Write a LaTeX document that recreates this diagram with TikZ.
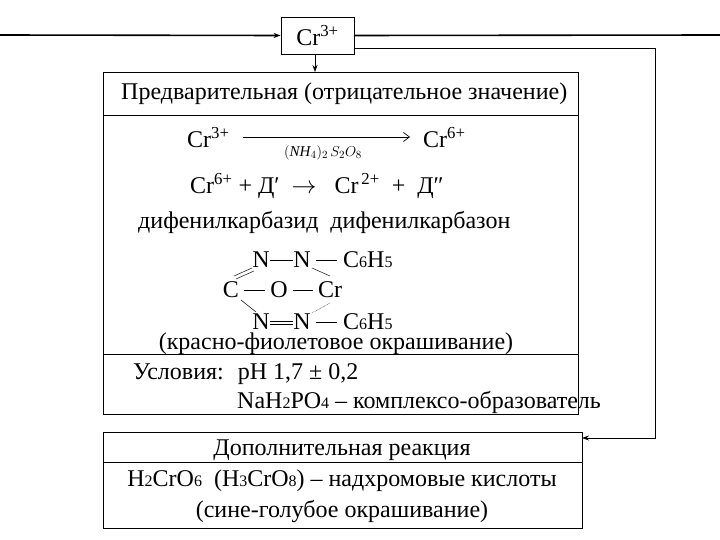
\documentclass[tikz,border=0pt]{standalone}
\usepackage{fontspec}
\setmainfont{Liberation Serif}
\usetikzlibrary{arrows.meta}
\newcommand{\lo}[1]{{\fontsize{16}{17}\selectfont #1}}
\newcommand{\up}[1]{\textsuperscript{#1}}
\begin{document}
\begin{tikzpicture}[x=1pt,y=-1pt,
  txt/.style={inner sep=0pt,font=\fontsize{24}{26}\selectfont},
  bx/.style={draw,line width=0.8pt},
  arr/.style={-{Stealth[length=7pt,width=5pt]}},
  sm/.style={font=\fontsize{15}{16}\selectfont}]
\useasboundingbox (0,0) rectangle (720,540);
% top box
\node[bx,minimum width=73,minimum height=37,inner sep=0pt,txt] (cr) at (317.5,35.5) {Cr\up{3+}};
\coordinate (L) at (0,35);
\coordinate (R) at (720,35);
\draw[line width=1.6pt,arr] (L) -- (cr.west);
\draw[line width=1.6pt] (cr.east) -- (R);
% main box
\draw[bx] (103,72) rectangle (578,414);
\draw[bx] (103,115) -- (578,115);
\draw[bx] (103,354) -- (578,354);
\coordinate (mtop) at (315,72);
\draw[line width=0.8pt,arr] (cr.south -| mtop) -- (mtop);
% lower box
\draw[bx] (103,432) rectangle (582,528);
\draw[bx] (103,462) -- (582,462);
\coordinate (c1) at (354,48);
\coordinate (c2) at (655,48);
\coordinate (c3) at (655,438);
\coordinate (c4) at (582,438);
\draw[line width=0.8pt,arr] (c1) -- (c2) -- (c3) -- (c4);
% texts
\node[txt,anchor=west] (t1) at (121,94) {Предварительная (отрицательное значение)};
\node[txt,anchor=west] (a1) at (187,138) {Cr\up{3+}};
\node[txt,anchor=west] (a2) at (423,138) {Cr\up{6+}};
\coordinate (ar1) at (243,137);
\coordinate (ar2) at (410,137);
\draw[line width=0.7pt,-{Straight Barb[length=6pt,width=9pt]}] (ar1) -- (ar2);
\node[sm,inner sep=0pt] (re) at (323,153) {$(\mathit{NH}_4)_2\,S_2O_8$};
\node[txt,anchor=west] (l2) at (190,186) {Cr\up{6+} + Д′ \ $\rightarrow$ \ \ Cr\up{\,2+} \ + \ Д″};
\node[txt,anchor=west] (l3) at (138,222) {дифенилкарбазид \ дифенилкарбазон};
% structure
\node[txt] (n1) at (261,260) {N};
\node[txt] (n2) at (302,260) {N};
\node[txt,anchor=west] (p1) at (343,260) {C\lo{6}H\lo{5}};
\node[txt] (cc) at (231,290) {C};
\node[txt] (oo) at (279,290) {O};
\node[txt] (crr) at (330,290) {Cr};
\node[txt] (n3) at (261,322) {N};
\node[txt] (n4) at (302,322) {N};
\node[txt,anchor=west] (p2) at (343,322) {C\lo{6}H\lo{5}};
\draw[line width=0.6pt] (n1.east) -- (n2.west);
\draw[line width=0.6pt] ([xshift=5]n2.east) -- ([xshift=-6]p1.west);
\draw[line width=0.6pt] ([xshift=5]n4.east) -- ([xshift=-6]p2.west);
\draw[line width=0.6pt] ([xshift=5]cc.east) -- ([xshift=-5]oo.west);
\draw[line width=0.6pt] ([xshift=5]oo.east) -- ([xshift=-5]crr.west);
\draw[line width=0.5pt] (234,276) -- (252,268);
\draw[line width=0.5pt] (236,279) -- (254,271);
\draw[line width=0.5pt] (312,268) -- (330,276);
\draw[line width=0.5pt] (241,300) -- (256,312);
\draw[line width=0.5pt,densely dotted] (330,303) -- (312,313);
\draw[line width=0.5pt] ([yshift=-2]n3.east) -- ([yshift=-2]n4.west);
\draw[line width=0.5pt] ([yshift=1]n3.east) -- ([yshift=1]n4.west);
\node[txt] (col) at (336,344) {(красно-фиолетовое окрашивание)};
\node[txt,anchor=west] (u1) at (133,374) {Условия: \ pH 1,7 ± 0,2};
\node[txt,anchor=west] (u2) at (237,402) {NaH\lo{2}PO\lo{4} – комплексо-образователь};
\node[txt] (d1) at (342,451) {\underline{Дополнительная реакция}};
\node[txt] (d2) at (342,481) {H\lo{2}CrO\lo{6} \ (H\lo{3}CrO\lo{8}) – надхромовые кислоты};
\node[txt] (d3) at (342,511) {(сине-голубое окрашивание)};
\end{tikzpicture}
\end{document}
